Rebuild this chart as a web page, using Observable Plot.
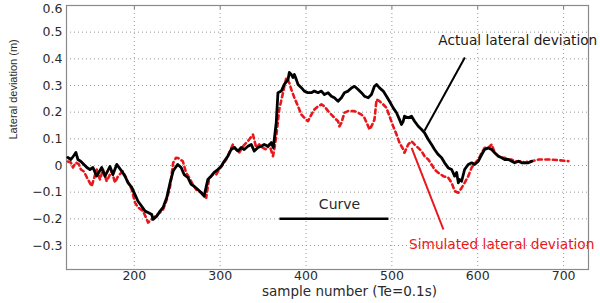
<!DOCTYPE html>
<html>
<head>
<meta charset="utf-8">
<script src="https://cdn.jsdelivr.net/npm/d3@7"></script>
<script src="https://cdn.jsdelivr.net/npm/@observablehq/plot@0.6"></script>
<style>
  html, body { margin: 0; padding: 0; background: #fff; }
  #chart svg { display: block; }
</style>
</head>
<body>
<div id="chart"></div>
<script>
// ---- Data (sample number, lateral deviation in m) ----
const actualSample = [122.6,126.1,129.6,131.9,134.3,137.8,141.3,144.8,148.3,151.8,156.1,162.0,165.8,171.6,175.1,179.5,185.3,189.1,192.6,197.0,200.8,204.3,208.6,212.5,216.0,220.3,221.8,226.1,230.0,233.5,237.8,241.7,245.2,246.3,250.6,254.5,258.0,262.3,266.2,269.7,274.0,277.8,281.3,285.6,289.5,293.0,297.3,301.2,304.7,309.0,312.8,316.3,320.7,324.5,328.0,332.3,336.2,339.7,344.0,347.8,351.3,355.7,359.5,361.8,363.0,365.3,367.3,371.2,374.7,379.0,380.5,382.9,384.8,386.4,388.7,390.7,394.5,398.0,402.3,406.2,409.7,414.0,417.9,421.4,425.7,429.5,433.0,437.3,441.2,444.7,449.0,452.9,456.4,460.7,464.5,468.0,472.4,476.2,479.7,482.1,485.6,489.9,493.7,497.2,501.5,505.4,508.9,511.2,513.2,514.7,519.0,522.9,526.4,530.7,534.6,538.0,542.4,546.2,549.7,554.0,557.9,561.4,565.7,569.6,573.1,575.4,577.4,578.9,581.2,584.7,589.0,592.9,596.4,600.7,604.6,608.0,612.4,616.2,619.7,624.0,627.9,631.4,635.7,639.6,643.0,647.4,651.2,654.7,659.0,662.9];
const actualValue = [0.030,0.0225,0.0375,0.049,0.0225,0.015,0.004,-0.0075,-0.015,-0.0075,-0.040,-0.0075,-0.040,-0.004,-0.034,0.004,-0.021,-0.040,-0.064,-0.082,-0.109,-0.134,-0.153,-0.171,-0.176,-0.184,-0.202,-0.190,-0.171,-0.157,-0.120,-0.064,-0.021,-0.015,0.004,-0.0075,-0.034,-0.045,-0.071,-0.078,-0.090,-0.101,-0.115,-0.0525,-0.040,-0.026,-0.015,-0.003,0.016,0.035,0.060,0.0675,0.054,0.0675,0.060,0.072,0.079,0.054,0.0675,0.072,0.079,0.072,0.086,0.0675,0.0975,0.161,0.273,0.279,0.304,0.322,0.349,0.341,0.330,0.341,0.322,0.304,0.292,0.279,0.273,0.273,0.279,0.273,0.279,0.266,0.273,0.260,0.254,0.241,0.254,0.273,0.279,0.291,0.297,0.285,0.273,0.260,0.254,0.266,0.297,0.304,0.291,0.279,0.260,0.241,0.216,0.198,0.172,0.154,0.166,0.185,0.179,0.185,0.166,0.147,0.135,0.123,0.0975,0.079,0.060,0.041,0.029,0.010,-0.009,-0.015,-0.040,-0.026,-0.065,-0.0525,-0.059,-0.015,0.004,0.010,0.004,0.016,0.041,0.060,0.066,0.060,0.048,0.035,0.029,0.0225,0.0225,0.016,0.010,0.016,0.010,0.010,0.010,0.016];

const simSample = [122.6,126.1,128.5,131.9,135.5,137.8,141.3,144.8,150.3,156.1,160.0,163.5,167.8,173.6,177.5,181.0,186.8,191.1,197.0,200.8,204.3,210.2,214.5,216.0,220.3,224.2,230.0,233.5,237.8,241.7,245.2,248.6,251.0,256.5,260.3,263.8,268.1,272.0,275.5,279.8,283.7,287.2,291.5,295.3,298.8,303.2,307.0,310.5,314.8,318.7,322.2,326.5,330.3,333.8,338.2,342.0,345.5,349.8,353.7,357.2,361.5,363.0,365.3,368.8,373.2,374.7,377.1,380.5,382.9,386.4,390.7,394.5,398.0,402.3,406.2,409.7,414.0,417.9,421.4,425.7,429.5,433.0,437.3,438.9,441.2,444.7,449.0,452.9,456.4,460.7,464.5,468.0,472.4,473.9,476.2,479.7,482.1,485.6,489.9,493.7,497.2,501.5,505.4,508.9,513.2,514.7,519.0,522.9,526.4,530.7,534.6,538.0,542.4,546.2,549.7,554.0,559.9,565.7,569.6,573.1,577.4,581.2,584.7,589.0,592.9,596.4,600.7,604.6,608.0,612.4,616.2,619.7,624.0,627.9,631.4,635.7,639.6,643.0,647.4,651.2,654.7,659.0,662.9,670.7,682.4,694.1,705.7];
const simValue = [0.015,0.011,-0.0075,0.011,0.004,-0.015,-0.0225,-0.045,-0.078,-0.015,-0.0525,-0.015,-0.059,-0.021,-0.064,-0.040,-0.021,-0.0525,-0.090,-0.139,-0.157,-0.171,-0.202,-0.214,-0.202,-0.190,-0.176,-0.165,-0.1275,-0.078,0.010,0.029,0.028,0.016,-0.027,-0.045,-0.071,-0.090,-0.096,-0.109,-0.121,-0.046,-0.034,-0.034,-0.015,0.004,0.0225,0.048,0.079,0.060,0.048,0.072,0.085,0.0975,0.116,0.066,0.079,0.066,0.060,0.079,0.035,0.060,0.110,0.210,0.273,0.297,0.329,0.310,0.285,0.254,0.222,0.191,0.179,0.166,0.191,0.210,0.222,0.229,0.222,0.204,0.191,0.179,0.166,0.147,0.160,0.198,0.204,0.204,0.204,0.198,0.191,0.179,0.147,0.135,0.147,0.172,0.2475,0.241,0.229,0.216,0.185,0.147,0.116,0.085,0.060,0.048,0.079,0.091,0.079,0.066,0.054,0.035,0.0225,0.004,-0.015,-0.027,-0.040,-0.046,-0.065,-0.096,-0.102,-0.084,-0.065,-0.040,-0.0075,0.0075,0.0225,0.048,0.066,0.066,0.079,0.048,0.035,0.029,0.029,0.0225,0.0225,0.016,0.016,0.016,0.010,0.016,0.016,0.0225,0.0225,0.020,0.016];

// ---- Axis ticks and labels ----
const xTicks = [200, 300, 400, 500, 600, 700];
const yTicks = [-0.3, -0.2, -0.1, 0, 0.1, 0.2, 0.3, 0.4, 0.5, 0.6];
const yTopTick = [0.6];
const xLabel = "sample number (Te=0.1s)";
const yLabel = "Lateral deviation (m)";

// ---- Annotations (in data units) ----
const curveSpan = {label: "Curve", start: 369, end: 496, level: -0.2, labelX: 439, labelY: -0.146};
const actualNote = {label: "Actual lateral deviation", textX: 554, textY: 0.47, x1: 585, y1: 0.405, x2: 538, y2: 0.13};
const simNote = {label: "Simulated lateral deviation", textX: 520, textY: -0.296, x1: 523, y1: 0.066, x2: 560, y2: -0.24};

const actual = actualSample.map((s, i) => ({s, v: actualValue[i]}));
const simulated = simSample.map((s, i) => ({s, v: simValue[i]}));

const RED = "#e8171b";
const FONT = "DejaVu Sans, sans-serif";
const yFmt = d => d === 0 ? "0" : d3.format(".1f")(d);

const chart = Plot.plot({
  width: 600,
  height: 303,
  marginLeft: 66,
  marginRight: 12,
  marginTop: 5,
  marginBottom: 34,
  style: {fontFamily: FONT, fontSize: "12px", color: "#2a2a2a", background: "#fff", overflow: "visible"},
  x: {domain: [121, 729]},
  y: {domain: [-0.39, 0.6]},
  marks: [
    Plot.gridX(xTicks, {stroke: "#9a9a9a", strokeOpacity: 1, strokeDasharray: "1,3"}),
    Plot.gridY(yTicks, {stroke: "#9a9a9a", strokeOpacity: 1, strokeDasharray: "1,3"}),
    Plot.axisX(xTicks, {tickSize: 0, tickPadding: 2, label: null, fontSize: 12.5}),
    Plot.axisY(yTicks.filter(t => t < 0.6), {tickSize: 0, tickPadding: 4, label: null, fontSize: 12.5, tickFormat: yFmt}),
    Plot.axisY(yTopTick, {tickSize: 0, tickPadding: 4, label: null, fontSize: 12.5, tickFormat: yFmt, dy: 3}),
    Plot.axisX(xTicks, {anchor: "top", tickSize: -3, tickFormat: () => "", label: null, stroke: "#777"}),
    Plot.frame({stroke: "#8a8a8a", strokeWidth: 1.2}),
    // curves
    Plot.line(simulated, {x: "s", y: "v", stroke: RED, strokeWidth: 2.6, strokeDasharray: "4,3.5", strokeLinejoin: "round"}),
    Plot.line(actual, {x: "s", y: "v", stroke: "#000", strokeWidth: 2.8, strokeLinejoin: "round"}),
    // annotations
    Plot.link([curveSpan], {x1: "start", x2: "end", y1: "level", y2: "level", stroke: "#000", strokeWidth: 2.5}),
    Plot.text([curveSpan], {x: "labelX", y: "labelY", text: "label", fill: "#2a2a2a", fontSize: 14}),
    Plot.link([actualNote], {x1: "x1", y1: "y1", x2: "x2", y2: "y2", stroke: "#000", strokeWidth: 2}),
    Plot.text([actualNote], {x: "textX", y: "textY", text: "label", textAnchor: "start", fill: "#1a1a1a", fontSize: 13.7}),
    Plot.link([simNote], {x1: "x1", y1: "y1", x2: "x2", y2: "y2", stroke: RED, strokeWidth: 2}),
    Plot.text([simNote], {x: "textX", y: "textY", text: "label", textAnchor: "start", fill: RED, fontSize: 13.7}),
    // axis titles
    Plot.text([xLabel], {frameAnchor: "bottom", dx: 22, dy: 26, fill: "#2a2a2a", fontSize: 13.5}),
    Plot.text([yLabel], {frameAnchor: "left", rotate: -90, dx: -53, dy: 2, fill: "#2a2a2a", fontSize: 11, fontFamily: "Liberation Sans, Arial, sans-serif"})
  ]
});
document.getElementById("chart").appendChild(chart);
</script>
</body>
</html>
